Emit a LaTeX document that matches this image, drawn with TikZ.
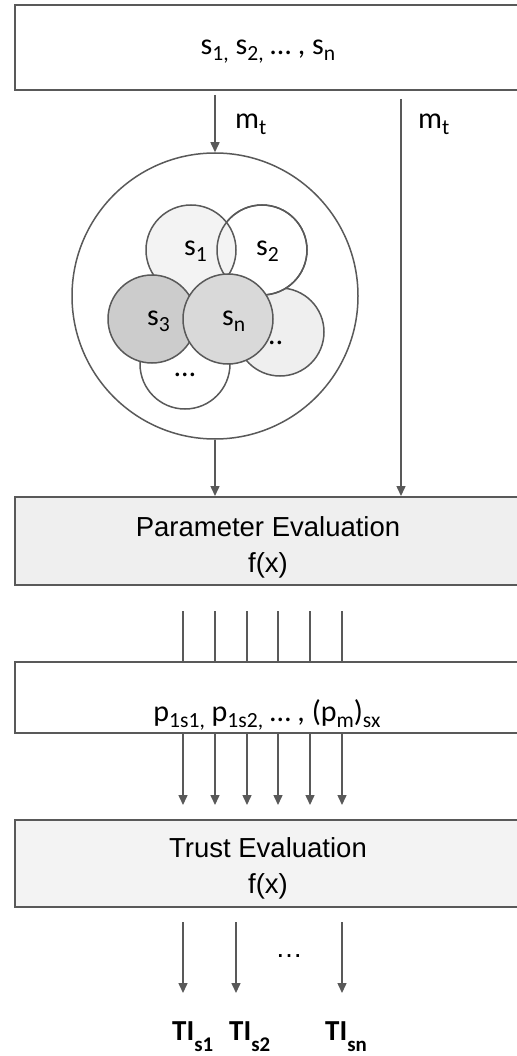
\documentclass[tikz,border=0pt]{standalone}
\usepackage{fontspec}
\setmainfont{Liberation Sans}
\newfontfamily\calfont{Carlito}
\usetikzlibrary{arrows.meta}
\definecolor{edge}{HTML}{595959}
\definecolor{ga}{HTML}{F3F3F3}
\definecolor{gb}{HTML}{D9D9D9}
\definecolor{gc}{HTML}{CCCCCC}
\definecolor{gd}{HTML}{EFEFEF}
\newcommand\lo[2][0.2em]{\raisebox{-#1}{\scalebox{0.72}{#2}}}
\tikzset{
  box/.style={rectangle, draw=edge, line width=2pt, minimum width=506pt, inner sep=0pt},
  arr/.style={draw=edge, line width=1.5pt, -{Triangle[width=9pt,length=10pt]}},
  plain/.style={draw=edge, line width=1.5pt},
  ring/.style={circle, draw=edge, line width=1.5pt, inner sep=0pt},
  lab/.style={font=\calfont\fontsize{30}{34}\selectfont, inner sep=0pt, anchor=base west},
  tilab/.style={font=\calfont\bfseries\fontsize{29}{34}\selectfont, inner sep=0pt, anchor=base west},
  evt/.style={font=\fontsize{27.5}{36}\selectfont, align=center, inner sep=0pt, anchor=north}
}
\begin{document}
\begin{tikzpicture}[x=1pt,y=-1pt]
\useasboundingbox (0,0) rectangle (516,1056);
% top box
\node[box, fill=white, minimum height=85pt] (top) at (268,47.5) {};
\node[lab, anchor=base] (toptxt) at (268,55) {s\lo{1,} s\lo{2,} \dots\ , s\lo{n}};
% boxes
\node[box, fill=gd, minimum height=88pt] (param) at (268,541) {};
\node[evt] (paramtxt) at (268,516.3) {Parameter Evaluation\\f(x)};
\node[box, fill=white, minimum height=71pt] (pbox) at (268,697.5) {};
\node[lab, anchor=base] (ptxt) at (267,721) {p\lo{1s1,} p\lo{1s2,} \dots\ , (p\lo{m})\lo{sx}};
\node[box, fill=ga, minimum height=87pt] (trust) at (268,863.5) {};
\node[evt] (trusttxt) at (268,837.3) {Trust Evaluation\\f(x)};
% big circle
\node[ring, fill=white, minimum size=286pt] (bigc) at (215,296) {};
\node[ring, fill=white, minimum size=90pt] (cb) at (185,364) {};
\node[lab, anchor=base] (cbt) at (185,376) {\dots};
\node[ring, fill=gd, minimum size=88pt] (cr) at (280,332) {};
\node[lab, anchor=base] (crt) at (272,344) {\dots};
\node[ring, fill=white, minimum size=90pt] (c2) at (262,250) {};
\node[ring, fill=ga, minimum size=90pt] (c1) at (191,250) {};
\draw[plain] (c2.center) circle[radius=45pt];
\node[lab] (c1t) at (184,256) {s\lo{1}};
\node[lab] (c2t) at (256,256) {s\lo{2}};
\node[ring, fill=gc, minimum size=88pt] (c3) at (152,319) {};
\node[ring, fill=gb, minimum size=90pt] (cn) at (228,319) {};
\node[lab] (c3t) at (147,325) {s\lo{3}};
\node[lab] (cnt) at (222,325) {s\lo{n}};
% arrows to circle / param
\coordinate (a0) at (215,95);
\draw[arr] (a0) -- (bigc.north);
\node[lab] (mt1) at (235,129) {m\lo{t}};
\coordinate (b0) at (401,99);
\draw[arr] (b0) -- (b0 |- param.north);
\node[lab] (mt2) at (418,129) {m\lo{t}};
\draw[arr] (bigc.south) -- (bigc.south |- param.north);
% parallel lines
\foreach \x in {183,215,247,278,310,342} {
  \coordinate (u\x) at (\x,611);
  \draw[plain] (u\x) -- (u\x |- pbox.north);
  \coordinate (v\x) at (\x,805);
  \draw[arr] (v\x |- pbox.south) -- (v\x);
}
% outputs
\foreach \x in {183,236,342} {
  \coordinate (w\x) at (\x,993);
  \coordinate (s\x) at (\x,922);
  \draw[arr] (s\x) -- (w\x);
}
\node[font=\fontsize{27.5}{30}\selectfont, inner sep=0pt, anchor=base] (dots) at (289,957) {\dots};
\node[tilab] (ti1) at (172,1040) {TI\lo[0.38em]{s1}};
\node[tilab] (ti2) at (229,1040) {TI\lo[0.38em]{s2}};
\node[tilab] (tin) at (325,1040) {TI\lo[0.38em]{sn}};
\end{tikzpicture}
\end{document}
